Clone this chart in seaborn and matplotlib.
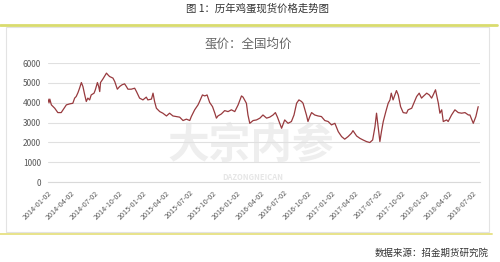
import matplotlib
matplotlib.use("Agg")
import matplotlib.pyplot as plt
from matplotlib.lines import Line2D
from matplotlib.patches import Rectangle
import pandas as pd
import seaborn as sns

dates = [
    "2014-01-02", "2014-01-06", "2014-01-09", "2014-01-15", "2014-01-28", "2014-02-09", "2014-02-22",
    "2014-03-01", "2014-03-14", "2014-03-27", "2014-04-08", "2014-04-15", "2014-04-21", "2014-04-28",
    "2014-05-04", "2014-05-11", "2014-05-17", "2014-05-24", "2014-05-30", "2014-06-05", "2014-06-12",
    "2014-06-18", "2014-06-29", "2014-07-04", "2014-07-12", "2014-07-17", "2014-07-21", "2014-07-24",
    "2014-08-02", "2014-08-16", "2014-08-22", "2014-08-28", "2014-09-10", "2014-09-17", "2014-09-27",
    "2014-10-06", "2014-10-15", "2014-10-25", "2014-11-01", "2014-11-07", "2014-11-20", "2014-12-03",
    "2014-12-10", "2014-12-22", "2015-01-04", "2015-01-17", "2015-01-23", "2015-02-06", "2015-02-12",
    "2015-02-18", "2015-02-25", "2015-03-10", "2015-03-22", "2015-04-05", "2015-04-17", "2015-04-30",
    "2015-05-13", "2015-05-26", "2015-06-08", "2015-06-21", "2015-07-04", "2015-07-10", "2015-07-23",
    "2015-08-05", "2015-08-11", "2015-08-22", "2015-08-31", "2015-09-09", "2015-09-19", "2015-09-30",
    "2015-10-09", "2015-10-15", "2015-10-21", "2015-11-03", "2015-11-16", "2015-11-29", "2015-12-12",
    "2015-12-25", "2016-01-07", "2016-01-20", "2016-01-26", "2016-02-08", "2016-02-14", "2016-02-21",
    "2016-03-05", "2016-03-18", "2016-03-31", "2016-04-12", "2016-04-26", "2016-05-08", "2016-05-21",
    "2016-05-30", "2016-06-07", "2016-06-16", "2016-06-23", "2016-07-05", "2016-07-18", "2016-07-31",
    "2016-08-10", "2016-08-20", "2016-08-29", "2016-09-08", "2016-09-14", "2016-09-27", "2016-10-03",
    "2016-10-10", "2016-10-17", "2016-10-29", "2016-11-11", "2016-11-24", "2016-12-07", "2016-12-20",
    "2017-01-02", "2017-01-15", "2017-01-28", "2017-02-10", "2017-02-22", "2017-03-07", "2017-03-20",
    "2017-03-26", "2017-04-09", "2017-04-22", "2017-05-04", "2017-05-17", "2017-05-30", "2017-06-10",
    "2017-06-19", "2017-06-25", "2017-07-01", "2017-07-08", "2017-07-14", "2017-07-21", "2017-07-31",
    "2017-08-09", "2017-08-16", "2017-08-21", "2017-08-28", "2017-09-04", "2017-09-10", "2017-09-17",
    "2017-09-26", "2017-10-06", "2017-10-19", "2017-10-25", "2017-11-08", "2017-11-16", "2017-11-27",
    "2017-12-07", "2017-12-16", "2017-12-22", "2018-01-05", "2018-01-15", "2018-01-24", "2018-01-30",
    "2018-02-08", "2018-02-19", "2018-02-25", "2018-03-04", "2018-03-10", "2018-03-23", "2018-03-29",
    "2018-04-11", "2018-04-24", "2018-05-07", "2018-05-20", "2018-06-02", "2018-06-15", "2018-06-21",
    "2018-07-04", "2018-07-14", "2018-07-23",
]
prices = [
    4180, 4000, 4180, 3890, 3720, 3500, 3500,
    3640, 3890, 3940, 3970, 4230, 4310, 4510,
    4730, 5015, 4815, 4390, 4060, 4230, 4140,
    4390, 4480, 4650, 5015, 4815, 4560, 5015,
    5190, 5490, 5400, 5320, 5240, 5065, 4680,
    4815, 4900, 4950, 4815, 4680, 4680, 4730,
    4560, 4230, 4140, 4280, 4140, 4180, 4480,
    4060, 3720, 3550, 3470, 3330, 3470, 3330,
    3300, 3270, 3100, 3170, 3100, 3300, 3640,
    3890, 4060, 4390, 4340, 4390, 4010, 3800,
    3470, 3220, 3330, 3430, 3600, 3550, 3640,
    3550, 3890, 4340, 4280, 3970, 3380, 2960,
    3100, 3130, 3220, 3380, 3220, 3270, 3380,
    3500, 3270, 2960, 2710, 3130, 2960, 3050,
    3380, 3970, 4140, 4060, 3970, 3380, 3050,
    3300, 3500, 3380, 3330, 3300, 3100, 3050,
    2880, 2960, 2540, 2290, 2160, 2290, 2460,
    2590, 2320, 2200, 2120, 2040, 1990, 2120,
    2790, 3470, 2790, 2040, 2540, 3050, 3550,
    3970, 4140, 4480, 4140, 4390, 4610, 4390,
    3800, 3500, 3470, 3640, 3720, 3970, 4310,
    4480, 4230, 4310, 4480, 4390, 4230, 4390,
    4650, 3970, 3470, 3640, 3050, 3130, 3050,
    3380, 3640, 3500, 3470, 3500, 3380, 3380,
    2960, 3300, 3800,
]
tick_dates = [
    "2014-01-02", "2014-04-02", "2014-07-02", "2014-10-02", "2015-01-02", "2015-04-02",
    "2015-07-02", "2015-10-02", "2016-01-02", "2016-04-02", "2016-07-02", "2016-10-02",
    "2017-01-02", "2017-04-02", "2017-07-02", "2017-10-02", "2018-01-02", "2018-04-02",
    "2018-07-02",
]
y_ticks = [0, 1000, 2000, 3000, 4000, 5000, 6000]

fig_title = "图 1：历年鸡蛋现货价格走势图"
chart_title = "蛋价：全国均价"
source_text = "数据来源：招金期货研究院"
watermark = "大宗内参"
watermark_sub = "DAZONGNEICAN"

sns.set_style("white")
plt.rcParams["font.family"] = ["Noto Sans CJK SC", "DejaVu Sans"]

df = pd.DataFrame({"date": pd.to_datetime(dates), "price": prices})

fig = plt.figure(figsize=(5.0, 2.62), dpi=100)
fig.patch.set_facecolor("white")

# frame decorations
fig.add_artist(Line2D([0.0, 0.994], [0.906, 0.906], color="#D9DC6E", lw=2.0))
fig.add_artist(Rectangle((0.012, 0.113), 0.966, 0.784, fill=False,
                         edgecolor="#E3E3E3", lw=0.8))
fig.add_artist(Line2D([0.0, 0.984], [0.107, 0.107], color="#E8E38A", lw=1.4))

fig.text(0.514, 0.968, fig_title, ha="center", va="center", fontsize=7.5, color="#333333")
fig.text(0.496, 0.834, chart_title, ha="center", va="center", fontsize=9, color="#666666")
fig.text(0.978, 0.034, source_text, ha="right", va="center", fontsize=6.8, color="#333333")

ax = fig.add_axes([0.096, 0.3053, 0.864, 0.4542])

# watermark
ax.text(0.47, 0.30, watermark, transform=ax.transAxes, ha="center", va="center",
        fontsize=30, fontweight="bold", fontstyle="italic", color="#EEEEEE", zorder=0)
ax.text(0.475, 0.04, watermark_sub, transform=ax.transAxes, ha="center", va="center",
        fontsize=5.5, fontweight="bold", color="#E6E6E6", zorder=0)

sns.lineplot(data=df, x="date", y="price", ax=ax, color="#983A3E", lw=0.9, zorder=3)

ax.set_xlim(pd.Timestamp("2014-01-02"), pd.Timestamp("2018-07-30"))
ax.set_ylim(0, 6000)
ax.set_yticks(y_ticks)
ax.set_yticklabels([str(v) for v in y_ticks], fontsize=6, color="#595959")
ticks = pd.to_datetime(tick_dates)
ax.set_xticks(ticks)
ax.set_xticklabels(tick_dates, rotation=45, ha="right", rotation_mode="anchor",
                   fontsize=5.2, color="#595959")
ax.grid(axis="y", color="#E0E0E0", lw=0.8)
ax.grid(axis="x", visible=False)
for s in ["top", "right", "left"]:
    ax.spines[s].set_visible(False)
ax.spines["bottom"].set_color("#D9D9D9")
ax.spines["bottom"].set_linewidth(0.8)
ax.tick_params(axis="x", length=3, width=0.6, color="#D9D9D9", pad=2)
ax.tick_params(axis="y", length=0, pad=5)
ax.set_xlabel("")
ax.set_ylabel("")

fig.savefig("out.png", dpi=100, facecolor="white")
